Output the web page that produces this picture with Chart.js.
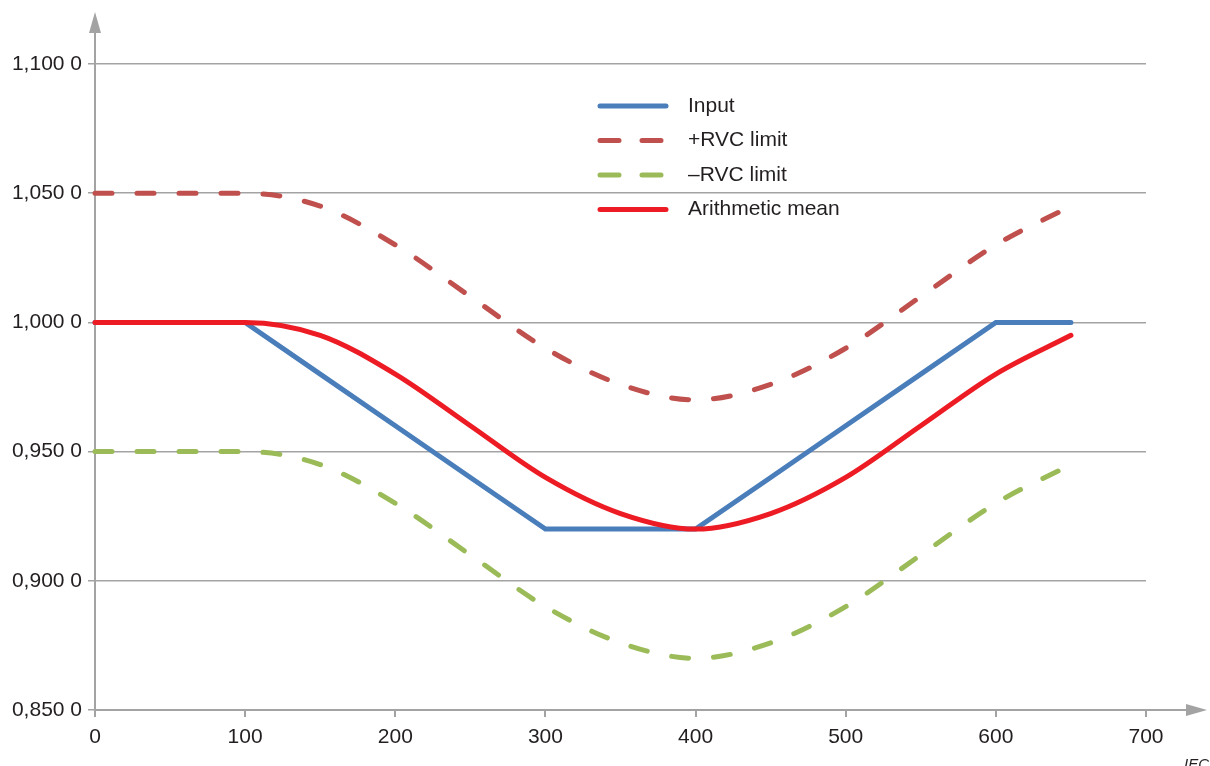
<!DOCTYPE html>
<html>
<head>
<meta charset="UTF-8">
<title>RVC limits</title>
<script src="https://cdn.jsdelivr.net/npm/chart.js@4.4.1/dist/chart.umd.min.js"></script>
<style>
  html, body { margin: 0; padding: 0; background: #fff; }
  #wrap { width: 1210px; height: 766px; position: relative; }
</style>
</head>
<body>
<div id="wrap"><canvas id="myChart"></canvas></div>
<script>
// x positions (time) shared by all series
var xs = [0, 50, 100, 150, 200, 250, 300, 350, 400, 450, 500, 550, 600, 650];

var input     = [1.000, 1.000, 1.000, 0.980, 0.960, 0.940, 0.920, 0.920, 0.920, 0.940, 0.960, 0.980, 1.000, 1.000];
var rvcPlus   = [1.050, 1.050, 1.050, 1.045, 1.030, 1.010, 0.990, 0.976, 0.970, 0.976, 0.990, 1.010, 1.030, 1.045];
var rvcMinus  = [0.950, 0.950, 0.950, 0.945, 0.930, 0.910, 0.890, 0.876, 0.870, 0.876, 0.890, 0.910, 0.930, 0.945];
var arithMean = [1.000, 1.000, 1.000, 0.995, 0.980, 0.960, 0.940, 0.926, 0.920, 0.926, 0.940, 0.960, 0.980, 0.995];

var xTicks = [0, 100, 200, 300, 400, 500, 600, 700];
var yTicks = [0.85, 0.90, 0.95, 1.00, 1.05, 1.10];

function pts(ys) {
  return xs.map(function (x, i) { return { x: x, y: ys[i] }; });
}

var FONT = '"Liberation Sans", Arial, sans-serif';
var TEXT = '#231f20';
var AXIS = '#a3a3a3';

// axis lines with arrow heads, legend box and the IEC mark
var decor = {
  id: 'decor',
  beforeDatasetsDraw: function (chart) {
    var c = chart.ctx, a = chart.chartArea;
    c.save();
    c.strokeStyle = AXIS;
    c.fillStyle = AXIS;
    c.lineWidth = 2;
    // y axis
    c.beginPath();
    c.moveTo(a.left, a.bottom + 6);
    c.lineTo(a.left, 30);
    c.stroke();
    c.beginPath();
    c.moveTo(a.left, 12);
    c.lineTo(a.left - 6, 33);
    c.lineTo(a.left + 6, 33);
    c.closePath();
    c.fill();
    // x axis
    c.beginPath();
    c.moveTo(a.left, a.bottom);
    c.lineTo(1188, a.bottom);
    c.stroke();
    c.beginPath();
    c.moveTo(1207, a.bottom);
    c.lineTo(1186, a.bottom - 6);
    c.lineTo(1186, a.bottom + 6);
    c.closePath();
    c.fill();
    c.restore();
  },
  afterDatasetsDraw: function (chart) {
    var c = chart.ctx;
    c.save();
    var x0 = 600, x1 = 666, tx = 688, y0 = 106, dy = 34.5;
    chart.data.datasets.forEach(function (ds, i) {
      var y = y0 + i * dy;
      c.strokeStyle = ds.borderColor;
      c.lineWidth = ds.borderWidth;
      c.lineCap = 'round';
      c.setLineDash(ds.borderDash && ds.borderDash.length ? [19, 23] : []);
      c.beginPath();
      c.moveTo(x0, y);
      c.lineTo(x1, y);
      c.stroke();
      c.setLineDash([]);
      c.fillStyle = TEXT;
      c.font = '21px ' + FONT;
      c.textBaseline = 'middle';
      c.textAlign = 'left';
      c.fillText(ds.label, tx, y);
    });
    c.font = 'italic 15px ' + FONT;
    c.fillStyle = TEXT;
    c.textBaseline = 'top';
    c.fillText('IEC', 1184, 757);
    c.restore();
  }
};

function line(label, data, color, dashed, smooth, order) {
  return {
    label: label,
    data: pts(data),
    order: order,
    borderColor: color,
    backgroundColor: color,
    borderWidth: 5,
    borderDash: dashed ? [17, 25] : [],
    borderCapStyle: 'round',
    borderJoinStyle: 'miter',
    cubicInterpolationMode: smooth ? 'monotone' : 'default',
    tension: 0,
    pointRadius: 0,
    fill: false,
    clip: false
  };
}

var config = {
  type: 'line',
  data: {
    datasets: [
      line('Input', input, '#4a7ebb', false, false, 1),
      line('+RVC limit', rvcPlus, '#c0504d', true, true, 2),
      line('\u2013RVC limit', rvcMinus, '#9bbb59', true, true, 3),
      line('Arithmetic mean', arithMean, '#ed1c24', false, true, 0)
    ]
  },
  options: {
    responsive: true,
    maintainAspectRatio: false,
    animation: false,
    events: [],
    layout: { padding: { top: 64, right: 64, left: 0, bottom: 0 } },
    plugins: {
      legend: { display: false },
      tooltip: { enabled: false }
    },
    scales: {
      x: {
        type: 'linear',
        min: 0,
        max: 700,
        afterFit: function (s) { s.height = 56; },
        afterBuildTicks: function (s) { s.ticks = xTicks.map(function (v) { return { value: v }; }); },
        border: { display: false },
        grid: { drawOnChartArea: false, drawTicks: true, tickLength: 7, color: AXIS, lineWidth: 2 },
        ticks: {
          padding: 8,
          color: TEXT,
          font: { family: FONT, size: 21 },
          maxRotation: 0,
          callback: function (v) { return String(v); }
        }
      },
      y: {
        type: 'linear',
        min: 0.85,
        max: 1.10,
        afterFit: function (s) { s.width = 95; },
        afterBuildTicks: function (s) { s.ticks = yTicks.map(function (v) { return { value: v }; }); },
        border: { display: false },
        grid: { drawTicks: true, tickLength: 7, color: AXIS, lineWidth: 1.5 },
        ticks: {
          padding: 6,
          color: TEXT,
          font: { family: FONT, size: 21 },
          callback: function (v) {
            var s = Number(v).toFixed(4).replace('.', ',');
            return s.slice(0, -1) + ' ' + s.slice(-1);
          }
        }
      }
    }
  },
  plugins: [decor]
};

var myChart = new Chart(document.getElementById('myChart'), config);
</script>
</body>
</html>
